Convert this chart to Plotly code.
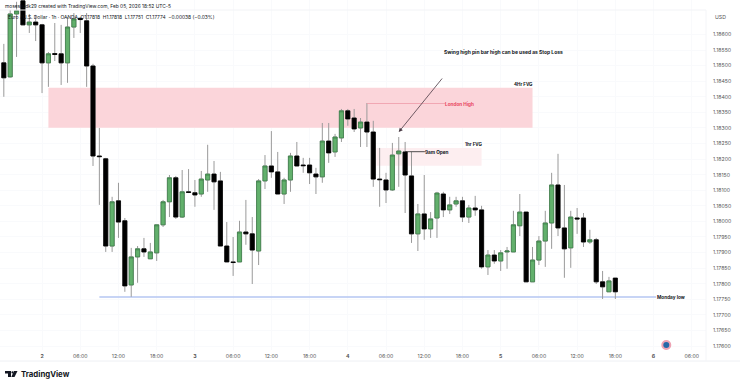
import pandas as pd
import numpy as np
import plotly.graph_objects as go

# Hourly EUR/USD candles
times = pd.date_range("2026-02-01 18:00", periods=97, freq="h")
opens = [1.18509,1.18464,1.18666,1.18708,1.18631,1.18640,1.18631,1.18509,1.18539,1.18538,1.18509,1.18624,1.18652,1.18644,1.18499,1.18210,
1.18201,1.17921,1.18066,1.18002,1.17796,1.17886,1.17912,1.17880,1.17899,1.17989,1.18063,1.18140,1.18014,1.18095,1.18092,1.18088,
1.18133,1.18152,1.18130,1.17921,1.17870,1.17870,1.17966,1.17960,1.17905,1.18130,1.18178,1.18159,1.18088,1.18133,1.18210,1.18181,
1.18181,1.18152,1.18143,1.18258,1.18223,1.18268,1.18355,1.18332,1.18300,1.18319,1.18287,1.18136,1.18133,1.18101,1.18217,1.18223,
1.18146,1.17960,1.18024,1.17976,1.18011,1.18088,1.18037,1.18056,1.18066,1.18014,1.18043,1.18037,1.17854,1.17892,1.17873,1.17902,
1.17902,1.17986,1.18030,1.17806,1.17876,1.17937,1.17995,1.18117,1.17979,1.17915,1.18011,1.18011,1.17934,1.17941,1.17806,1.17774,1.17818]
highs = [1.18570,1.18679,1.18705,1.18711,1.18666,1.18663,1.18634,1.18544,1.18637,1.18631,1.18656,1.18669,1.18656,1.18669,1.18506,1.18300,
1.18204,1.18079,1.18124,1.18011,1.17915,1.17921,1.17947,1.17931,1.17989,1.18069,1.18149,1.18146,1.18165,1.18168,1.18133,1.18162,
1.18246,1.18194,1.18159,1.17998,1.17950,1.18002,1.18069,1.18014,1.18136,1.18213,1.18290,1.18223,1.18140,1.18220,1.18255,1.18204,
1.18204,1.18172,1.18316,1.18316,1.18281,1.18361,1.18361,1.18361,1.18332,1.18380,1.18323,1.18236,1.18156,1.18252,1.18271,1.18255,
1.18223,1.18056,1.18149,1.18030,1.18095,1.18095,1.18079,1.18079,1.18079,1.18053,1.18082,1.18050,1.17908,1.17908,1.17908,1.17918,
1.18034,1.18088,1.18030,1.17918,1.17953,1.18034,1.18156,1.18217,1.18117,1.18034,1.18043,1.18027,1.17973,1.17947,1.17841,1.17822,1.17818]
lows = [1.18400,1.18462,1.18528,1.18630,1.18605,1.18579,1.18412,1.18432,1.18515,1.18438,1.18445,1.18589,1.18605,1.18432,1.18178,1.18053,
1.17902,1.17902,1.17947,1.17774,1.17758,1.17803,1.17886,1.17880,1.17873,1.17982,1.18014,1.18008,1.18011,1.18091,1.18047,1.18079,
1.18095,1.18037,1.17921,1.17870,1.17825,1.17870,1.17925,1.17799,1.17860,1.18104,1.18140,1.18088,1.18056,1.18095,1.18178,1.18156,
1.18120,1.18088,1.18124,1.18188,1.18207,1.18255,1.18307,1.18287,1.18239,1.18239,1.18111,1.18047,1.18059,1.18098,1.18111,1.18027,
1.17931,1.17905,1.17941,1.17947,1.17947,1.18014,1.18024,1.18047,1.17998,1.17995,1.18018,1.17848,1.17828,1.17864,1.17841,1.17848,
1.17902,1.17953,1.17806,1.17806,1.17860,1.17854,1.17912,1.17953,1.17819,1.17851,1.17960,1.17918,1.17928,1.17799,1.17751,1.17774,1.17751]
closes = [1.18461,1.18666,1.18676,1.18631,1.18640,1.18631,1.18509,1.18538,1.18536,1.18509,1.18624,1.18650,1.18648,1.18499,1.18210,1.18208,
1.17921,1.18063,1.17998,1.17793,1.17886,1.17912,1.17902,1.17902,1.17989,1.18063,1.18140,1.18014,1.18095,1.18093,1.18085,1.18136,
1.18152,1.18127,1.17921,1.17870,1.17868,1.17966,1.17960,1.17908,1.18130,1.18178,1.18159,1.18088,1.18133,1.18210,1.18178,1.18179,
1.18156,1.18143,1.18258,1.18220,1.18271,1.18355,1.18329,1.18297,1.18319,1.18287,1.18136,1.18134,1.18101,1.18213,1.18226,1.18149,
1.17960,1.18024,1.17976,1.18008,1.18091,1.18037,1.18053,1.18066,1.18014,1.18043,1.18037,1.17854,1.17892,1.17873,1.17899,1.17905,
1.17989,1.18030,1.17806,1.17876,1.17937,1.17995,1.18117,1.17979,1.17912,1.18014,1.18008,1.17934,1.17941,1.17806,1.17790,1.17809,1.17774]

body_top = np.maximum(opens, closes)
body_bottom = np.minimum(opens, closes)

price_ticks = [round(1.176 + 0.0005 * i, 4) for i in range(21)]
time_tick_vals = ["2026-02-02 00:00","2026-02-02 06:00","2026-02-02 12:00","2026-02-02 18:00",
                  "2026-02-03 00:00","2026-02-03 06:00","2026-02-03 12:00","2026-02-03 18:00",
                  "2026-02-04 00:00","2026-02-04 06:00","2026-02-04 12:00","2026-02-04 18:00",
                  "2026-02-05 00:00","2026-02-05 06:00","2026-02-05 12:00","2026-02-05 18:00",
                  "2026-02-06 00:00","2026-02-06 06:00"]
time_tick_text = ["<b>2</b>","06:00","12:00","18:00","<b>3</b>","06:00","12:00","18:00",
                  "<b>4</b>","06:00","12:00","18:00","<b>5</b>","06:00","12:00","18:00","<b>6</b>","06:00"]

FONT = "Inter"
TXT = "#131722"
fig = go.Figure()

# wicks
fig.add_trace(go.Candlestick(x=times, open=opens, high=highs, low=lows, close=closes,
    increasing=dict(line=dict(color="#9a9a9a", width=1), fillcolor="#9a9a9a"),
    decreasing=dict(line=dict(color="#9a9a9a", width=1), fillcolor="#9a9a9a"),
    whiskerwidth=0, showlegend=False, hoverinfo="skip"))
# bodies
fig.add_trace(go.Candlestick(x=times, open=opens, high=body_top, low=body_bottom, close=closes,
    increasing=dict(line=dict(color="#3a7d46", width=0.7), fillcolor="#62b06c"),
    decreasing=dict(line=dict(color="#000000", width=0.7), fillcolor="#000000"),
    whiskerwidth=0, showlegend=False, hoverinfo="skip"))
# calendar event dot
fig.add_trace(go.Scatter(x=["2026-02-06 02:00"], y=[1.176032], mode="markers",
    marker=dict(size=8, color="#2468a8", line=dict(color="#eda3b4", width=2)),
    showlegend=False, hoverinfo="skip"))

shapes = [
    dict(type="rect", layer="between", x0="2026-02-02 01:00", x1="2026-02-05 05:00", y0=1.183008, y1=1.184292,
         fillcolor="#fbd5da", line_width=0),
    dict(type="rect", layer="between", x0="2026-02-04 04:30", x1="2026-02-04 21:00", y0=1.181788, y1=1.182356,
         fillcolor="#fdeef0", line_width=0),
    dict(type="line", x0="2026-02-04 03:00", x1="2026-02-04 15:18", y0=1.183785, y1=1.183785,
         line=dict(color="#ef9aa8", width=0.8)),
    dict(type="line", x0="2026-02-04 09:00", x1="2026-02-04 12:06", y0=1.182238, y1=1.182238,
         line=dict(color="#222222", width=0.8)),
    dict(type="line", layer="between", x0="2026-02-02 09:00", x1="2026-02-06 00:24", y0=1.177573, y1=1.177573,
         line=dict(color="#b5c6f2", width=1.6)),
    # panel separators
    dict(type="line", xref="paper", yref="paper", x0=0, x1=1.0, y0=1-10/350, y1=1-10/350,
         line=dict(color="#f2f3f6", width=1)),
    dict(type="line", xref="paper", yref="paper", x0=0, x1=740/706, y0=-11/350, y1=-11/350,
         line=dict(color="#eef0f4", width=1)),
    dict(type="line", xref="paper", yref="paper", x0=1, x1=1, y0=-11/350, y1=1-10/350,
         line=dict(color="#f4f5f8", width=1)),
]

# TradingView logo glyph
def P(x, y):
    return f"{x/706:.5f},{1-y/350:.5f}"
logo_paths = [
    f"M{P(5,371)} L{P(11,371)} L{P(11,377)} L{P(8,377)} L{P(8,373.5)} L{P(5,373.5)} Z",
    f"M{P(14,371)} L{P(17.5,371)} L{P(14.5,377)} L{P(11.3,377)} Z",
]
for p in logo_paths:
    shapes.append(dict(type="path", xref="paper", yref="paper", path=p, fillcolor="#131722", line_width=0))
shapes.append(dict(type="circle", xref="paper", yref="paper",
                   x0=11.4/706, x1=13.6/706, y0=1-373.5/350, y1=1-371.3/350, fillcolor="#131722", line_width=0))

def label(text, x, y, anchor="left", color=TXT, size=4.7):
    return dict(text=text, x=x, y=y, xanchor=anchor, yanchor="middle", showarrow=False,
                font=dict(family=FONT, size=size, color=color), borderpad=0, borderwidth=0)

def plabel(text, px, py, size, color=TXT, anchor="left"):
    return dict(text=text, xref="paper", yref="paper", x=px/706, y=1-py/350, xanchor=anchor, yanchor="middle",
                showarrow=False, font=dict(family=FONT, size=size, color=color), borderpad=0)

annotations = [
    label("<b>Swing high pin bar high can be used as Stop Loss</b>", "2026-02-04 15:06", 1.185438, size=4.96),
    label("<b>4Hr FVG</b>", "2026-02-05 05:00", 1.184411, anchor="right", size=4.5),
    label("<b>1hr FVG</b>", "2026-02-04 21:00", 1.182485, anchor="right", size=4.5),
    label("<b>London High</b>", "2026-02-04 15:18", 1.183785, color="#e8465f"),
    label("<b>9am Open</b>", "2026-02-04 12:06", 1.182238),
    label("<b>Monday low</b>", "2026-02-06 00:30", 1.177573),
    dict(x="2026-02-04 08:00", y=1.18287, ax="2026-02-04 15:00", ay=1.184636, xref="x", yref="y",
         axref="x", ayref="y", text="", showarrow=True, arrowhead=2, arrowsize=1, arrowwidth=0.8,
         arrowcolor="#4a3a44"),
    plabel("mosesliudk29 created with TradingView.com, Feb 05, 2026 18:52 UTC-5", 4, 6, 4.85),
    plabel("Euro / U.S. Dollar · 1h · OANDA  O1.17818  H1.17818  L1.17751  C1.17774  −0.00038 (−0.03%)", 7, 17, 4.9),
    plabel("USD", 714, 17, 5.2, color="#555555"),
    plabel("<b>TradingView</b>", 19.5, 374, 7.8),
]

fig.update_layout(
    width=740, height=386, autosize=False,
    margin=dict(l=0, r=34, t=0, b=36),
    paper_bgcolor="#ffffff", plot_bgcolor="#ffffff",
    showlegend=False, dragmode=False, boxgap=0.1, boxgroupgap=0.28,
    shapes=shapes, annotations=annotations,
    font=dict(family=FONT, color="#555555", size=5.2),
    xaxis=dict(type="date", range=["2026-02-01 17:24", "2026-02-06 08:14"],
               tickmode="array", tickvals=time_tick_vals, ticktext=time_tick_text,
               tickfont=dict(family=FONT, size=5.2, color="#555555"), ticks="", ticklen=0,
               showgrid=True, gridcolor="#f9fafc", gridwidth=1, zeroline=False, showline=False,
               rangeslider=dict(visible=False), fixedrange=True, ticklabelstandoff=2),
    yaxis=dict(side="right", range=[1.175872, 1.187108], tickmode="array", tickvals=price_ticks,
               ticktext=[f"{v:.5f}" for v in price_ticks],
               tickfont=dict(family=FONT, size=5.2, color="#555555"), ticks="",
               showgrid=True, gridcolor="#f9fafc", gridwidth=1, zeroline=False, showline=False,
               fixedrange=True, ticklabelstandoff=6),
)

fig.write_html("out.html", config={"displayModeBar": False},
               post_script="document.body.style.margin='0';")
